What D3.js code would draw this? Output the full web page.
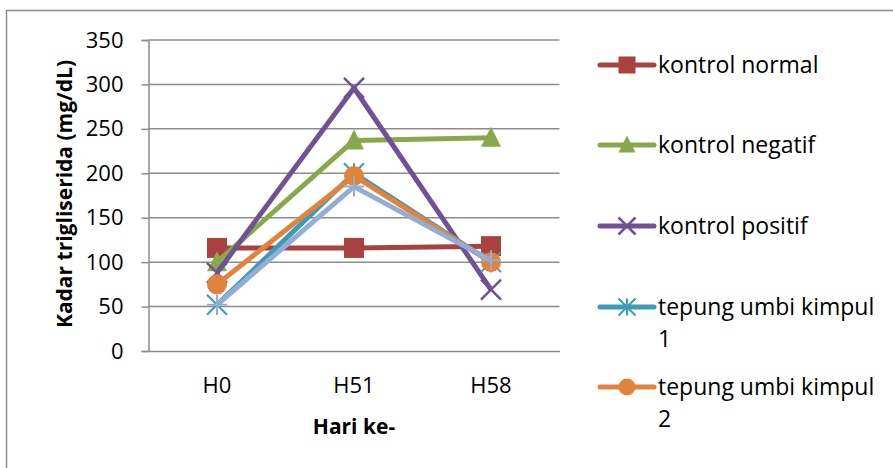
<!DOCTYPE html>
<html><head><meta charset="utf-8">
<script src="https://cdn.jsdelivr.net/npm/d3@7"></script>
<style>body{margin:0;background:#fff}svg{display:block}</style>
</head><body>
<svg id="c" width="893" height="468"></svg>
<script>
const categories = ["H0","H51","H58"];
const seriesNames = ["kontrol normal","kontrol negatif","kontrol positif","tepung umbi kimpul 1","tepung umbi kimpul 2","tepung umbi kimpul 3"];
const sNormal  = [116,116,118];
const sNegatif = [100,237,240];
const sPositif = [88,296,69];
const sTepung1 = [52,200,100];
const sTepung2 = [75,197,100];
const sTepung3 = [52,185,102];
const yTicks = [0,50,100,150,200,250,300,350];
const colors = ["#A8423F","#8AA84B","#6E5294","#3E9BB6","#E0843B","#94ADD5"];
const markers = ["square","triangle","x","asterisk","circle","plus"];
const allSeries = [sNormal,sNegatif,sPositif,sTepung1,sTepung2,sTepung3];

const svg = d3.select("#c");
const F = "'Open Sans', sans-serif";
// outer frame
svg.append("rect").attr("x",6.5).attr("y",10.5).attr("width",900).attr("height",500)
  .attr("fill","none").attr("stroke","#8c8c8c").attr("stroke-width",1.5);

const L=148.5, R=559.5, T=40, B=351;
const x = d3.scaleBand().domain(categories).range([L,R]);
const y = d3.scaleLinear().domain([0,350]).range([B,T]);

// gridlines
svg.append("g").selectAll("line").data(yTicks.filter(d=>d>0)).join("line")
  .attr("x1",L).attr("x2",R).attr("y1",d=>y(d)).attr("y2",d=>y(d))
  .attr("stroke","#8c8c8c").attr("stroke-width",1.5);

const yAxis = svg.append("g").attr("transform",`translate(${L},0)`)
  .call(d3.axisLeft(y).tickValues(yTicks).tickSize(7).tickPadding(18));
yAxis.select(".domain").attr("stroke","#8c8c8c").attr("stroke-width",1.5);
yAxis.selectAll(".tick line").attr("stroke","#8c8c8c").attr("stroke-width",1.5);
yAxis.selectAll("text").attr("font-family",F).attr("font-size",22).attr("fill","#000");

const xAxis = svg.append("g").attr("transform",`translate(0,${B})`)
  .call(d3.axisBottom(x).tickSize(0).tickPadding(26));
xAxis.select(".domain").attr("stroke","#8c8c8c").attr("stroke-width",1.5);
xAxis.selectAll("text").attr("font-family",F).attr("font-size",22).attr("fill","#000");

svg.append("text").attr("x",(L+R)/2).attr("y",434).attr("text-anchor","middle")
  .attr("font-family",F).attr("font-weight","bold").attr("font-size",21).text("Hari ke-");
svg.append("text").attr("transform",`translate(72,194) rotate(-90)`).attr("text-anchor","middle")
  .attr("font-family",F).attr("font-weight","bold").attr("font-size",21).text("Kadar trigliserida (mg/dL)");

function drawMarker(g, type, cx, cy, color, s){
  const h=s/2;
  if(type==="square") g.append("rect").attr("x",cx-h).attr("y",cy-h).attr("width",s).attr("height",s).attr("fill",color);
  else if(type==="triangle") g.append("path").attr("d",`M${cx},${cy-h-1}L${cx+h},${cy+h-1}L${cx-h},${cy+h-1}Z`).attr("fill",color);
  else if(type==="circle") g.append("circle").attr("cx",cx).attr("cy",cy).attr("r",h).attr("fill",color);
  else if(type==="x") g.append("path").attr("d",`M${cx-h},${cy-h}L${cx+h},${cy+h}M${cx+h},${cy-h}L${cx-h},${cy+h}`).attr("stroke",color).attr("stroke-width",2.5);
  else if(type==="asterisk") g.append("path").attr("d",`M${cx-h},${cy-h}L${cx+h},${cy+h}M${cx+h},${cy-h}L${cx-h},${cy+h}M${cx},${cy-h}L${cx},${cy+h}`).attr("stroke",color).attr("stroke-width",2);
  else if(type==="plus") g.append("path").attr("d",`M${cx-h},${cy}L${cx+h},${cy}M${cx},${cy-h}L${cx},${cy+h}`).attr("stroke",color).attr("stroke-width",2);
}

const line = d3.line().x((d,i)=>x(categories[i])+x.bandwidth()/2).y(d=>y(d));
allSeries.forEach((vals,si)=>{
  const g = svg.append("g");
  g.append("path").attr("d",line(vals)).attr("fill","none").attr("stroke",colors[si])
    .attr("stroke-width",5).attr("stroke-linejoin","round");
  vals.forEach((v,i)=>drawMarker(g,markers[si],x(categories[i])+x.bandwidth()/2,y(v),colors[si],20));
});

// legend
const legY = [65,145,226,307,387];
seriesNames.slice(0,5).forEach((name,i)=>{
  const g = svg.append("g");
  const cy = legY[i];
  g.append("line").attr("x1",600).attr("x2",654).attr("y1",cy).attr("y2",cy)
    .attr("stroke",colors[i]).attr("stroke-width",5).attr("stroke-linecap","round");
  drawMarker(g,markers[i],627,cy,colors[i],17);
  const words = name.split(" ");
  const t = g.append("text").attr("font-family",F).attr("font-size",23).attr("fill","#000");
  if(name.length>16){
    t.append("tspan").attr("x",658).attr("y",cy+8).text(words.slice(0,3).join(" "));
    t.append("tspan").attr("x",658).attr("y",cy+40).text(words[3]);
  } else {
    t.append("tspan").attr("x",658).attr("y",cy+8).text(name);
  }
});
</script>
</body></html>
